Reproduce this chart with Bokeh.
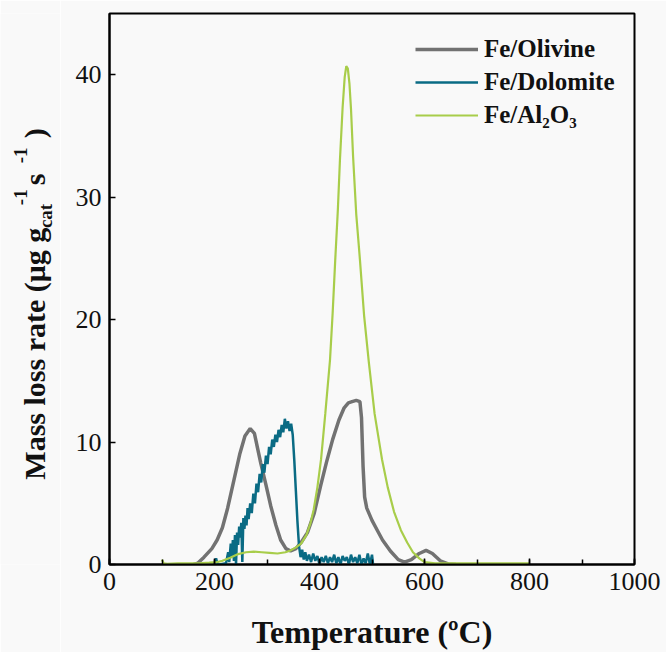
from bokeh.plotting import figure
from bokeh.layouts import row
from bokeh.models import (SingleIntervalTicker, Legend, LegendItem, Label, ColumnDataSource, Range1d)
from bokeh.embed import file_html
from bokeh.resources import INLINE

# ---------------- data ----------------
olivine_T = [160, 168, 180, 195, 205, 215, 225, 237, 248, 258, 268, 276, 288, 298, 307,
             317, 326, 336, 345, 355, 365, 377, 390, 402, 413, 425, 437, 447, 455, 462,
             470, 477, 480, 483, 486, 490, 500, 510, 520, 535, 550, 562, 575, 590, 603,
             615, 630, 645, 660]
olivine_v = [0.0, 0.1, 0.6, 1.3, 2.0, 3.0, 4.6, 6.9, 9.0, 10.5, 11.1, 10.7, 8.3, 6.5, 4.8,
             3.2, 2.0, 1.3, 1.1, 1.3, 1.8, 2.6, 4.2, 6.4, 8.3, 10.2, 11.8, 12.8, 13.2, 13.3,
             13.4, 13.3, 12.0, 8.0, 5.5, 4.6, 3.6, 2.8, 2.0, 1.1, 0.4, 0.2, 0.4, 0.9, 1.15,
             0.9, 0.3, 0.05, 0.0]

dolomite_T = [200, 203, 206, 210, 222, 226, 228, 231, 233, 235, 237, 239, 241, 243, 245,
              247, 249, 251, 253, 255, 257, 259, 261, 263, 265, 268, 271, 274, 277, 280,
              283, 286, 289, 292, 295, 298, 301, 304, 307, 310, 313, 316, 319, 322, 325,
              328, 331, 334, 337, 340, 343, 346, 349, 352, 355, 358, 361, 364, 367, 370,
              373, 376, 380, 384, 388, 392, 396, 400, 404, 408, 412, 416, 420, 424, 428,
              432, 436, 440, 444, 448, 452, 456, 460, 464, 468, 472, 476, 480, 484, 488,
              492, 496, 500, 502]
dolomite_v = [0.0, 0.5, 0.0, 0.0, 0.1, 1.0, 0.2, 1.7, 0.6, 2.0, 0.3, 2.4, 0.0, 2.6, 1.6,
              3.1, 2.2, 3.4, 0.2, 3.8, 2.9, 4.0, 3.2, 4.6, 3.7, 5.0, 4.2, 5.8, 5.0, 6.6,
              5.9, 7.4, 6.7, 8.2, 7.5, 8.9, 8.2, 9.6, 9.0, 10.2, 9.6, 10.6, 10.0, 11.0, 10.4,
              11.4, 10.8, 11.9, 11.1, 11.7, 10.9, 11.5, 10.6, 8.5, 6.0, 3.5, 1.5, 0.6, 1.2, 0.4,
              1.0, 0.3, 0.8, 0.2, 0.9, 0.3, 0.7, 0.0, 0.6, 0.2, 0.7, 0.1, 0.6, 0.2, 0.8,
              0.1, 0.6, 0.0, 0.7, 0.3, 0.6, 0.0, 0.8, 0.2, 0.6, 0.1, 0.8, 0.0, 0.5, 0.1,
              0.9, 0.0, 0.8, 0.0]

alumina_T = [100, 103, 110, 130, 150, 170, 190, 205, 215, 230, 245, 260, 275, 290, 305,
             320, 335, 345, 355, 365, 375, 383, 389, 396, 403, 411, 420, 425, 430, 435,
             439, 444, 448, 451, 454, 457, 460, 464, 470, 477, 485, 494, 505, 519, 530,
             542, 555, 567, 578, 590, 600, 620, 650, 700, 750, 800]
alumina_v = [0.4, 0.1, 0.05, 0.1, 0.1, 0.1, 0.15, 0.2, 0.3, 0.55, 0.85, 1.0, 1.05, 1.0, 0.95,
             0.9, 1.0, 1.15, 1.4, 1.7, 2.4, 3.4, 4.5, 6.3, 8.6, 12.3, 16.7, 20.5, 24.9, 29.0,
             33.1, 37.3, 39.8, 40.7, 40.5, 39.3, 37.2, 33.3, 28.6, 24.9, 20.3, 16.5, 12.3, 8.6, 6.3,
             4.3, 2.8, 1.8, 1.0, 0.5, 0.2, 0.1, 0.1, 0.1, 0.1, 0.1]

series_names = ["Fe/Olivine", "Fe/Dolomite", "Fe/Al\u2082O\u2083"]
series_colors = ["#727272", "#0a6b84", "#a8cd4a"]
series_widths = [3.5, 2.5, 2.2]

ylabel_texts = ["Mass loss rate (\u03bcg g", "cat", "-1", "s", "-1", ")"]

x_ticks_interval = 200
y_ticks_interval = 10

# ---------------- layout ----------------
W, H = 666, 652
LW = 60                      # width of the strip holding the y-axis title
L, R, T, B = 109, 32, 13, 87
XMIN, XMAX, YMIN, YMAX = 0, 1000, 0, 45
FONT = "Liberation Serif"
BG = "#f9f9f9"

p = figure(width=W - LW, height=H, x_range=(XMIN, XMAX), y_range=(YMIN, YMAX),
           output_backend="svg", toolbar_location=None, tools="",
           min_border_left=L - LW, min_border_right=R, min_border_top=T, min_border_bottom=B)
p.background_fill_color = BG
p.border_fill_color = BG
p.outline_line_color = "black"
p.outline_line_width = 2
p.xgrid.visible = False
p.ygrid.visible = False

renderers = []
for xs, ys, c, w in [(olivine_T, olivine_v, series_colors[0], series_widths[0]),
                     (dolomite_T, dolomite_v, series_colors[1], series_widths[1]),
                     (alumina_T, alumina_v, series_colors[2], series_widths[2])]:
    src = ColumnDataSource(dict(x=xs, y=ys))
    renderers.append(p.line("x", "y", source=src, line_color=c, line_width=w))

# axes
p.xaxis.ticker = SingleIntervalTicker(interval=x_ticks_interval, num_minor_ticks=2)
p.yaxis.ticker = SingleIntervalTicker(interval=y_ticks_interval, num_minor_ticks=0)
for ax in (p.xaxis[0], p.yaxis[0]):
    ax.axis_line_width = 2
    ax.axis_line_color = "black"
    ax.major_tick_in = 6
    ax.major_tick_out = 0
    ax.minor_tick_in = 5
    ax.minor_tick_out = 0
    ax.major_tick_line_width = 1.5
    ax.minor_tick_line_width = 1.5
    ax.major_label_text_font = FONT
    ax.major_label_text_font_size = "26px"
    ax.major_label_text_color = "#111111"
    ax.major_label_standoff = 8

p.xaxis.axis_label = "Temperature (\u00baC)"
p.xaxis.axis_label_text_font = FONT
p.xaxis.axis_label_text_font_style = "bold"
p.xaxis.axis_label_text_font_size = "32px"
p.xaxis.axis_label_text_color = "#111111"
p.xaxis.axis_label_standoff = 21

legend = Legend(items=[LegendItem(label=n, renderers=[r]) for n, r in zip(series_names, renderers)],
                location=(306, 435), padding=0, margin=0, spacing=5,
                glyph_width=63, glyph_height=28, label_height=28, label_standoff=6,
                label_text_font=FONT, label_text_font_style="bold",
                label_text_font_size="25px", label_text_color="#111111",
                background_fill_alpha=0, border_line_alpha=0)
p.add_layout(legend)

# ---------------- strip with the y-axis title (pieces for sub/superscripts) ----------------
# The row aligns this strip's frame with the main frame (rows T .. H-B), so map y 1:1 to pixels.
t = figure(width=LW, height=H, x_range=Range1d(0, LW), y_range=Range1d(H - B, T),
           output_backend="svg", toolbar_location=None, tools="",
           x_axis_type=None, y_axis_type=None,
           min_border_left=0, min_border_right=0, min_border_top=T, min_border_bottom=B)
t.background_fill_color = BG
t.border_fill_color = BG
t.outline_line_color = None
t.xgrid.visible = False
t.ygrid.visible = False

# (anchor x, start y from top, size) for each piece, in pixels
piece_pos = [(34, 480, "30px"), (45, 228, "19px"), (20, 205, "19px"),
             (34, 185, "30px"), (20, 163, "19px"), (34, 138, "30px")]
for txt, (sx, sy, fs) in zip(ylabel_texts, piece_pos):
    t.add_layout(Label(x=sx, y=sy, text=txt, angle=90, angle_units="deg",
                       text_font=FONT, text_font_style="bold", text_font_size=fs,
                       text_color="#111111", text_align="left",
                       text_baseline="alphabetic"))

layout = row(t, p, spacing=0)
open("out.html", "w").write(file_html(layout, INLINE))
